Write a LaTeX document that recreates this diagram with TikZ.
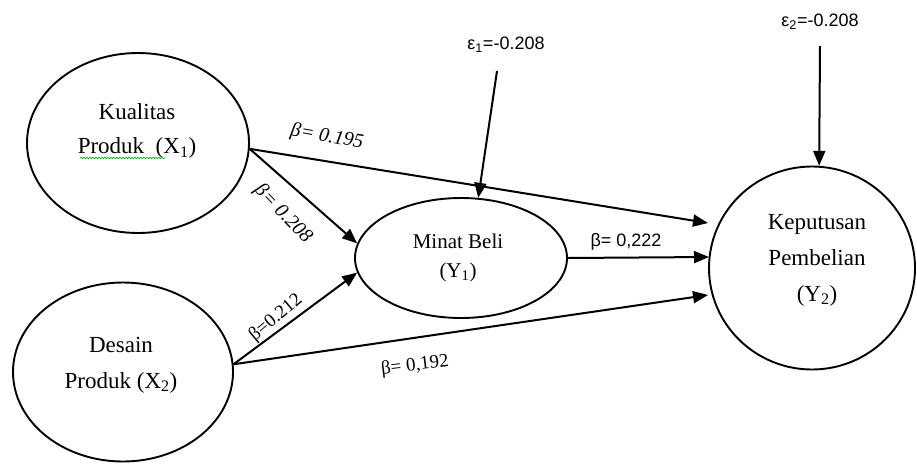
\documentclass[tikz,border=0pt]{standalone}
\usepackage{fontspec}
\setmainfont{Liberation Serif}
\setsansfont{Liberation Sans}
\usetikzlibrary{arrows.meta,shapes.geometric,decorations.pathmorphing}
\begin{document}
\begin{tikzpicture}[x=1pt,y=-1pt,
  latent/.style={draw,ellipse,line width=1.9pt,inner sep=0pt},
  pathline/.style={line width=2pt,-{Triangle[length=15pt,width=12pt]}},
  vartext/.style={font=\fontsize{23}{34}\selectfont,align=center,inner sep=0pt},
  coefit/.style={font=\fontsize{20}{22}\selectfont\itshape,inner sep=0pt},
  coefup/.style={font=\fontsize{19}{22}\selectfont,inner sep=0pt},
  coefsans/.style={font=\sffamily\fontsize{18}{22}\selectfont,inner sep=0pt},
  errtext/.style={font=\sffamily\fontsize{18}{22}\selectfont,inner sep=0pt},
  spell/.style={draw=green!70!black,line width=0.6pt,decorate,decoration={snake,amplitude=0.8pt,segment length=3pt}}]
\useasboundingbox (0,0) rectangle (917,463);
\fill[white] (0,0) rectangle (917,463);

% latent variables
\node[latent,minimum width=222pt,minimum height=180pt] (k) at (138,143) {};
\node[latent,minimum width=220pt,minimum height=179pt] (d) at (123,372) {};
\node[latent,minimum width=212pt,minimum height=120pt] (m) at (461,258) {};
\node[latent,minimum width=206pt,minimum height=203pt] (kp) at (812,268) {};

% texts
\node[vartext] (kt) at (137,131) {Kualitas\\Produk\hspace{0.5em}(X\textsubscript{1})};
\draw[spell] (80,158) -- (165,158);
\node[vartext,font=\fontsize{23}{36}\selectfont] (dt) at (121,365) {Desain\\Produk (X\textsubscript{2})};
\node[vartext,font=\fontsize{21}{29}\selectfont] (mt) at (458,258) {Minat Beli\\(Y\textsubscript{1})};
\node[vartext,font=\fontsize{23}{36}\selectfont] (kpt) at (817,260) {Keputusan\\Pembelian\\(Y\textsubscript{2})};

% error terms
\node[errtext] (e1) at (506,45) {ε\textsubscript{1}=-0.208};
\node[errtext] (e2) at (820,22) {ε\textsubscript{2}=-0.208};
\coordinate (e1s) at (497,71);
\coordinate (e2s) at (820,46);

% arrival points on Keputusan Pembelian
\coordinate (in1) at (708,223);
\coordinate (in2) at (709,257);
\coordinate (in3) at (708,295);

% paths
\draw[pathline] (k.-3) -- (in1);
\draw[pathline] (k.-3) -- (m.172);
\draw[pathline] (d.4) -- (m.188);
\draw[pathline] (d.4) -- (in3);
\draw[pathline] (m.east) -- (in2);
\draw[pathline] (e1s) -- (m.74);
\draw[pathline] (e2s) -- (kp.86);

% coefficients
\node[coefit,rotate=-10] (b1) at (327,137) {β= 0.195};
\node[coefit,rotate=-46] (b2) at (283,214) {β= 0.208};
\node[coefup,rotate=40] (b3) at (276,318) {β=0.212};
\node[coefup,rotate=7] (b4) at (415,366) {β= 0,192};
\node[coefsans] (b5) at (626,242) {β= 0,222};
\end{tikzpicture}
\end{document}
